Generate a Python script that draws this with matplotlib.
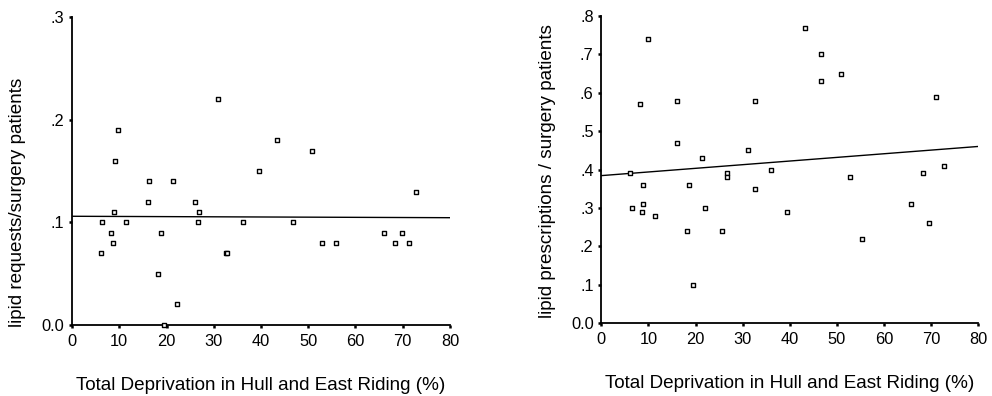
import numpy as np
import matplotlib
matplotlib.use("Agg")
import matplotlib.pyplot as plt

plt.rcParams['font.family'] = ['Liberation Sans', 'DejaVu Sans']

# total deprivation (%) and lipid requests per surgery patients
dep_req = [6.1, 6.4, 8.3, 8.7, 8.9, 9.2, 9.8, 11.4, 16.0, 16.4, 18.2, 18.8,
           19.5, 21.3, 22.2, 26.0, 26.6, 26.9, 30.9, 32.5, 32.8, 36.2, 39.6,
           43.3, 46.8, 50.7, 52.9, 55.8, 66.0, 68.4, 69.8, 71.3, 72.8]
requests = [0.07, 0.10, 0.09, 0.08, 0.11, 0.16, 0.19, 0.10, 0.12, 0.14, 0.05, 0.09,
            0.00, 0.14, 0.02, 0.12, 0.10, 0.11, 0.22, 0.07, 0.07, 0.10, 0.15,
            0.18, 0.10, 0.17, 0.08, 0.08, 0.09, 0.08, 0.09, 0.08, 0.13]

# total deprivation (%) and lipid prescriptions per surgery patients
dep_presc = [6.1, 6.4, 8.2, 8.6, 8.9, 8.9, 9.8, 11.4, 16.1, 16.1, 18.2, 18.5,
             19.5, 21.4, 22.0, 25.7, 26.7, 26.7, 31.1, 32.7, 32.7, 36.1, 39.5,
             43.3, 46.7, 46.7, 50.8, 52.7, 55.4, 65.7, 68.2, 69.5, 71.1, 72.7]
prescriptions = [0.39, 0.30, 0.57, 0.29, 0.36, 0.31, 0.74, 0.28, 0.58, 0.47, 0.24, 0.36,
                 0.10, 0.43, 0.30, 0.24, 0.39, 0.38, 0.45, 0.58, 0.35, 0.40, 0.29,
                 0.77, 0.70, 0.63, 0.65, 0.38, 0.22, 0.31, 0.39, 0.26, 0.59, 0.41]

xlabel = 'Total Deprivation in Hull and East Riding (%)'


def panel(ax, x, y, ymax, yticks, yticklabels, ylabel, ylab_y):
    ax.scatter(x, y, marker='s', s=10, facecolors='white', edgecolors='black',
               linewidths=1.0, clip_on=False, zorder=3)
    # linear fit line over the full x range
    b, a = np.polyfit(x, y, 1)
    xs = np.array([0, 80])
    ax.plot(xs, a + b * xs, color='black', lw=1.0)
    ax.set_xlim(0, 80)
    ax.set_ylim(0, ymax)
    ax.set_xticks(range(0, 81, 10))
    ax.set_yticks(yticks)
    ax.set_yticklabels(yticklabels)
    for s in ['top', 'right']:
        ax.spines[s].set_visible(False)
    for s in ['left', 'bottom']:
        ax.spines[s].set_linewidth(1.3)
    ax.tick_params(direction='out', length=2.5, width=1.8, labelsize=11.8)
    ax.tick_params(axis='x', pad=4)
    ax.tick_params(axis='y', pad=3)
    ax.set_xlabel(xlabel, fontsize=13.6)
    ax.xaxis.label.set_va('center')
    ax.xaxis.set_label_coords(0.5, -0.197)
    ax.set_ylabel(ylabel, fontsize=13.6)
    ax.yaxis.label.set_va('center')
    ax.yaxis.set_label_coords(-0.143, ylab_y)


fig = plt.figure(figsize=(9.92, 3.96), dpi=100)
ax1 = fig.add_axes([0.0726, 0.1793, 0.381, 0.777])
ax2 = fig.add_axes([0.6062, 0.1836, 0.380, 0.776])

panel(ax1, dep_req, requests, 0.3, [0, 0.1, 0.2, 0.3],
      ['0.0', '.1', '.2', '.3'], 'lipid requests/surgery patients', 0.40)
panel(ax2, dep_presc, prescriptions, 0.8, [i / 10 for i in range(9)],
      ['0.0', '.1', '.2', '.3', '.4', '.5', '.6', '.7', '.8'],
      'lipid prescriptions / surgery patients', 0.494)

fig.savefig('out.png', dpi=100, facecolor='white')
